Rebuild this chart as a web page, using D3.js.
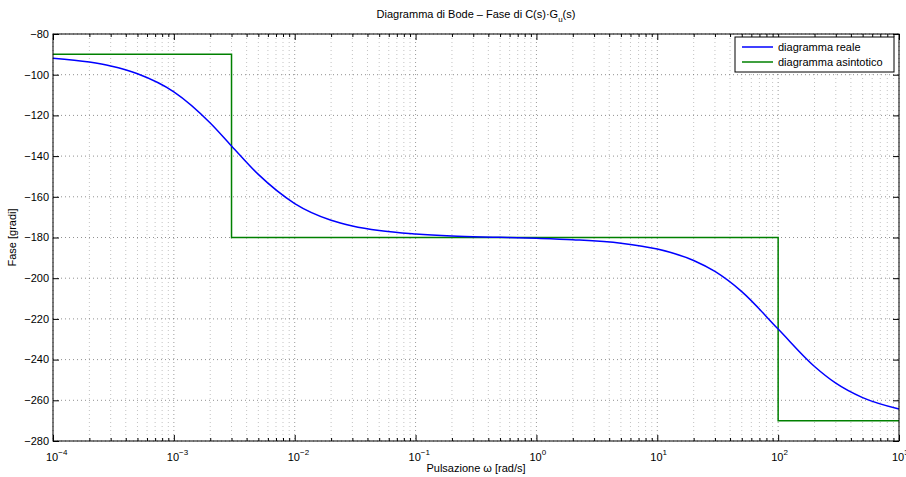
<!DOCTYPE html>
<html>
<head>
<meta charset="utf-8">
<script src="https://cdn.jsdelivr.net/npm/d3@7"></script>
<style>
  body { margin: 0; background: #fff; }
  svg { font-family: "Liberation Sans", Arial, Helvetica, sans-serif; }
</style>
</head>
<body>
<svg id="bode" width="906" height="477"></svg>
<script>
// Fase reale (pulsazione, gradi)
var omegaReale = [1e-4, 2e-4, 3e-4, 5e-4, 1e-3, 2e-3, 3e-3, 5e-3, 1e-2, 2e-2, 3e-2, 5e-2,
                  1e-1, 2e-1, 5e-1, 1, 2, 5, 10, 20, 30, 50, 100, 200, 300, 500, 1000];
var faseReale  = [-91.9, -93.8, -95.7, -99.5, -108.4, -123.7, -135, -149.0, -163.3, -171.5, -174.3, -176.6,
                  -178.3, -179.3, -179.9, -180.4, -181.1, -182.8, -185.7, -191.3, -196.7, -206.6, -225, -243.4, -251.6, -258.7, -264.3];

// diagramma asintotico (gradini)
var omegaAsint = [1e-4, 3e-3, 3e-3, 100, 100, 1000];
var faseAsint  = [-90, -90, -180, -180, -270, -270];

var xDecadi = [-4, -3, -2, -1, 0, 1, 2, 3];
var yTicks = [-280, -260, -240, -220, -200, -180, -160, -140, -120, -100, -80];
var legendLabels = ["diagramma reale", "diagramma asintotico"];
var coloriSerie = ["#0000ff", "#008000"];

var margin = {top: 34, right: 7, bottom: 36, left: 53}
  , width = 906 - margin.left - margin.right
  , height = 477 - margin.top - margin.bottom;

var svg = d3.select("#bode");
var g = svg.append("g")
    .attr("transform", "translate(" + margin.left + "," + margin.top + ")");

var xScale = d3.scaleLog()
    .domain([1e-4, 1e3])
    .range([0, width]);

var yScale = d3.scaleLinear()
    .domain([-280, -80])
    .range([height, 0]);

// minor ticks 2..9 di ogni decade
var minori = [];
xDecadi.slice(0, -1).forEach(function(e) {
  for (var k = 2; k <= 9; k++) minori.push(k * Math.pow(10, e));
});
var maggiori = xDecadi.map(function(e) { return Math.pow(10, e); });

// griglia
var grid = g.append("g").attr("class", "grid")
    .attr("stroke", "#444")
    .attr("stroke-width", 0.6)
    .attr("stroke-dasharray", "1,3");

grid.selectAll(".gx").data(maggiori.concat(minori)).enter().append("line")
    .attr("x1", function(d) { return xScale(d); })
    .attr("x2", function(d) { return xScale(d); })
    .attr("y1", 0).attr("y2", height)
    .attr("stroke-opacity", function(d) { return maggiori.indexOf(d) >= 0 ? 0.9 : 0.55; });

grid.selectAll(".gy").data(yTicks).enter().append("line")
    .attr("x1", 0).attr("x2", width)
    .attr("y1", function(d) { return yScale(d); })
    .attr("y2", function(d) { return yScale(d); });

// curve
var line = d3.line()
    .x(function(d) { return xScale(d[0]); })
    .y(function(d) { return yScale(d[1]); });

g.append("path")
    .datum(d3.zip(omegaAsint, faseAsint))
    .attr("d", line)
    .attr("fill", "none")
    .attr("stroke", coloriSerie[1])
    .attr("stroke-width", 1.5);

g.append("path")
    .datum(d3.zip(omegaReale, faseReale))
    .attr("d", line.curve(d3.curveMonotoneX))
    .attr("fill", "none")
    .attr("stroke", coloriSerie[0])
    .attr("stroke-width", 1.5);

// assi: ticks verso l'interno
g.append("g")
    .attr("transform", "translate(0," + height + ")")
    .call(d3.axisTop(xScale).tickValues(maggiori).tickSize(6).tickFormat(""));
g.append("g")
    .attr("transform", "translate(0," + height + ")")
    .call(d3.axisTop(xScale).tickValues(minori).tickSize(3).tickFormat(""));
g.append("g")
    .call(d3.axisBottom(xScale).tickValues(maggiori).tickSize(6).tickFormat(""));
g.append("g")
    .call(d3.axisBottom(xScale).tickValues(minori).tickSize(3).tickFormat(""));
g.append("g")
    .call(d3.axisRight(yScale).tickValues(yTicks).tickSize(6).tickFormat(""));
g.append("g")
    .attr("transform", "translate(" + width + ",0)")
    .call(d3.axisLeft(yScale).tickValues(yTicks).tickSize(6).tickFormat(""));

g.selectAll(".domain").remove();
g.selectAll(".tick line").attr("stroke", "#000").attr("stroke-width", 1);

g.append("rect")
    .attr("width", width).attr("height", height)
    .attr("fill", "none").attr("stroke", "#000").attr("stroke-width", 1);

// etichette y
g.selectAll(".ylab").data(yTicks).enter().append("text")
    .attr("x", -4)
    .attr("y", function(d) { return yScale(d); })
    .attr("dy", "0.35em")
    .attr("text-anchor", "end")
    .attr("font-size", 11)
    .text(function(d) { return "\u2212" + Math.abs(d); });

// etichette x: 10^e
var xl = g.selectAll(".xlab").data(xDecadi).enter().append("text")
    .attr("x", function(d) { return xScale(Math.pow(10, d)) - 7; })
    .attr("y", height + 20)
    .attr("text-anchor", "start")
    .attr("font-size", 11);
xl.append("tspan").text("10");
xl.append("tspan")
    .attr("dy", -6)
    .attr("font-size", 8)
    .text(function(d) { return d < 0 ? "\u2212" + Math.abs(d) : d; });

// titoli
var title = svg.append("text")
    .attr("x", margin.left + width / 2)
    .attr("y", 18)
    .attr("text-anchor", "middle")
    .attr("font-size", 11);
title.append("tspan").text("Diagramma di Bode \u2013 Fase di C(s)\u00b7G");
title.append("tspan").attr("dy", 4).attr("font-size", 8).text("u");
title.append("tspan").attr("dy", -4).text("(s)");

svg.append("text")
    .attr("x", margin.left + width / 2)
    .attr("y", 472)
    .attr("text-anchor", "middle")
    .attr("font-size", 11)
    .text("Pulsazione \u03c9 [rad/s]");

svg.append("text")
    .attr("transform", "translate(16," + (margin.top + height / 2) + ") rotate(-90)")
    .attr("text-anchor", "middle")
    .attr("font-size", 11)
    .text("Fase [gradi]");

// legenda
var leg = g.append("g").attr("transform", "translate(" + (width - 164) + ",3)");
leg.append("rect")
    .attr("width", 159).attr("height", 35)
    .attr("fill", "#fff").attr("stroke", "#000").attr("stroke-width", 1);
legendLabels.forEach(function(lab, i) {
  leg.append("line")
      .attr("x1", 7).attr("x2", 38)
      .attr("y1", 10 + i * 15).attr("y2", 10 + i * 15)
      .attr("stroke", coloriSerie[i]).attr("stroke-width", 1.5);
  leg.append("text")
      .attr("x", 43).attr("y", 10 + i * 15)
      .attr("dy", "0.35em")
      .attr("font-size", 11)
      .text(lab);
});
</script>
</body>
</html>
